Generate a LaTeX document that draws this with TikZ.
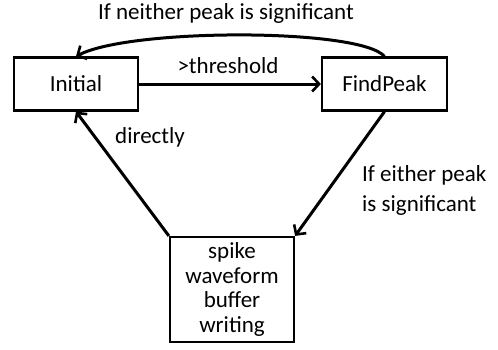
\documentclass[tikz,border=0pt]{standalone}
\usepackage{fontspec}
\setmainfont{Carlito}
\usetikzlibrary{arrows.meta}
\begin{document}
\begin{tikzpicture}[x=1pt,y=1pt,
  statebox/.style={draw=black,line width=2.2pt,minimum width=124pt,inner sep=0pt,align=center},
  lbl/.style={inner sep=0pt,align=left},
  conn/.style={line width=3pt,-{Straight Barb[length=7pt,width=15pt,line width=2.6pt]}},
  every node/.style={font=\fontsize{23}{24.7}\selectfont}]
\useasboundingbox (0,0) rectangle (498,-349);
\node[statebox,minimum height=53pt] (init) at (76,-84) {Initial};
\node[statebox,minimum width=125pt,minimum height=53pt] (find) at (384.5,-84) {FindPeak};
\node[statebox,minimum height=105pt] (buf) at (232,-289.5) {spike\\waveform\\buffer\\writing};
\draw[conn] (init) -- (find);
\draw[conn] (find.south) -- (buf.north east);
\draw[conn] (buf.north west) -- (init.south);
\draw[conn] (find.north) .. controls (360,-28) and (130,-28) .. (init.north);
\node[lbl] (t1) at (228,-66) {>threshold};
\node[lbl] (t2) at (226,-13) {If neither peak is significant};
\node[lbl] (t3) at (150,-137) {directly};
\node[lbl,anchor=west,font=\fontsize{23}{29.5}\selectfont] (t4) at (362,-190.5) {If either peak\\is significant};
\end{tikzpicture}
\end{document}
